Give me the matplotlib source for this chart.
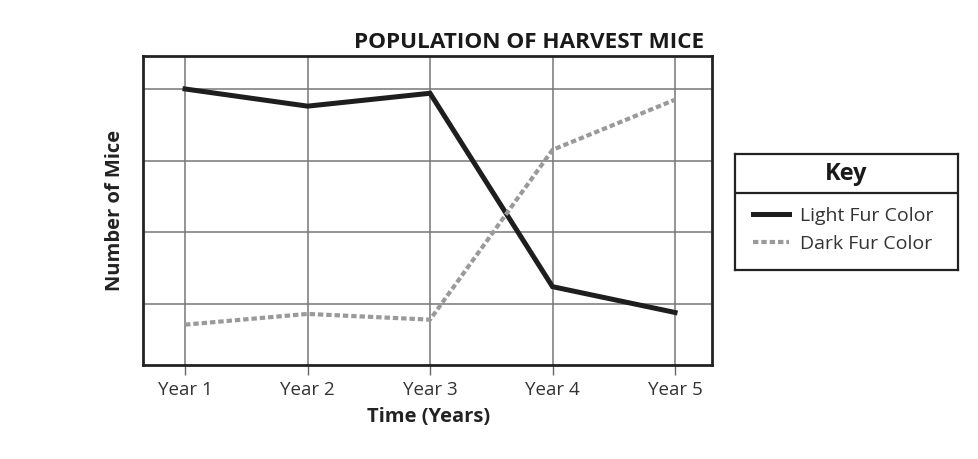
import matplotlib.pyplot as plt
from matplotlib.lines import Line2D

# data (y axis has no scale, gridlines are at 1..4)
years = ["Year 1", "Year 2", "Year 3", "Year 4", "Year 5"]
light_fur = [4.0, 3.76, 3.94, 1.24, 0.88]
dark_fur = [0.71, 0.86, 0.78, 3.15, 3.85]
grid_levels = [1, 2, 3, 4]

plt.rcParams['font.family'] = ['Open Sans', 'DejaVu Sans']

fig = plt.figure(figsize=(9.79, 4.59), dpi=100)
ax = fig.add_axes([0.1461, 0.2048, 0.5812, 0.6732])

x = list(range(1, len(years) + 1))
ax.plot(x, light_fur, color="#1e1e1e", lw=3.6, solid_joinstyle="miter",
        label="Light Fur Color", zorder=3)
ax.plot(x, dark_fur, color="#9a9a9a", lw=3.0, dashes=(1.3, 0.7),
        dash_capstyle="butt", label="Dark Fur Color", zorder=3)

ax.set_xlim(0.657, 5.302)
ax.set_ylim(0.147, 4.46)
ax.set_xticks(x)
ax.set_xticklabels(years, fontsize=13.5, color="#333333")
ax.set_yticks(grid_levels)
ax.tick_params(axis="y", length=0, labelleft=False)
ax.tick_params(axis="x", direction="out", length=7, width=1, color="#666666", pad=4.5)
ax.grid(True, color="#777777", lw=1.1)
ax.set_axisbelow(True)
for sp in ax.spines.values():
    sp.set_linewidth(2.0)
    sp.set_color("#222222")

fig.text(704 / 979, 1 - 42 / 459, "POPULATION OF HARVEST MICE", ha="right", va="center",
         fontsize=16.2, fontweight="bold", color="#1a1a1a")
fig.text(115.5 / 979, 1 - 210 / 459, "Number of Mice", rotation=90, ha="center", va="center",
         fontsize=14.5, fontweight="bold", color="#222222")
fig.text(428.6 / 979, 1 - 416.7 / 459, "Time (Years)", ha="center", va="center",
         fontsize=14.5, fontweight="bold", color="#222222")

# key box
kax = fig.add_axes([0.7508, 0.4118, 0.2278, 0.2527])
kax.set_xticks([])
kax.set_yticks([])
for sp in kax.spines.values():
    sp.set_linewidth(1.6)
    sp.set_color("#222222")
kax.axhline(1 - 39 / 116, color="#222222", lw=1.6)
kax.text(0.5, 1 - 20 / 116, "Key", ha="center", va="center", fontsize=17,
         fontweight="bold", color="#1a1a1a", transform=kax.transAxes)
handles = [
    Line2D([], [], color="#1e1e1e", lw=3.6),
    Line2D([], [], color="#9a9a9a", lw=3.0, dashes=(1.3, 0.7), dash_capstyle="butt"),
]
kax.legend(handles, ["Light Fur Color", "Dark Fur Color"], loc="center left",
           bbox_to_anchor=(0.0, 0.345), frameon=False, fontsize=14, handlelength=1.9,
           handletextpad=0.55, labelspacing=0.5, labelcolor="#333333")

fig.savefig("out.png", dpi=100)
